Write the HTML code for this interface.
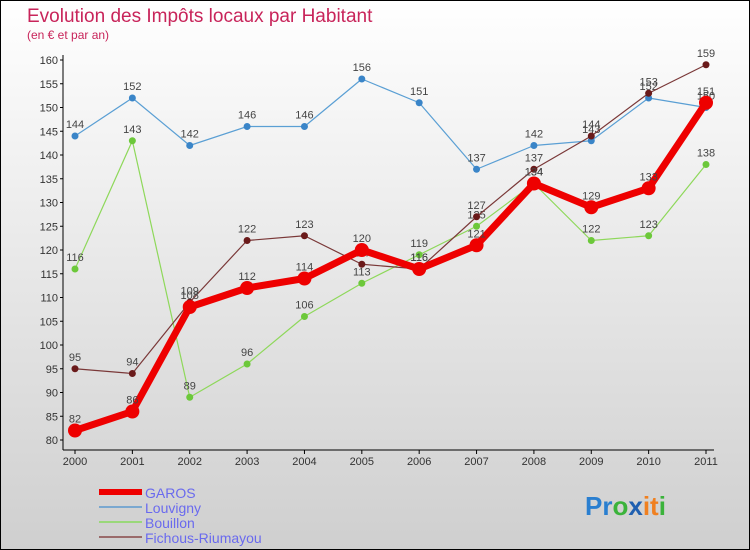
<!DOCTYPE html>
<html><head><meta charset="utf-8"><style>
body{margin:0}
svg{display:block;font-family:"Liberation Sans",sans-serif}
</style></head><body>
<svg width="750" height="550" viewBox="0 0 750 550">
<defs><linearGradient id="bg" x1="0" y1="0" x2="0" y2="1"><stop offset="0" stop-color="#ffffff"/><stop offset="1" stop-color="#cfcfcf"/></linearGradient></defs>
<rect x="0.5" y="0.5" width="749" height="549" fill="url(#bg)" stroke="#000"/>
<text x="27" y="22" font-size="19" fill="#c8245a">Evolution des Impôts locaux par Habitant</text>
<text x="27" y="39" font-size="12" fill="#c8245a">(en € et par an)</text>
<g id="axes"></g>
<g id="series"></g>
<g id="legend"></g>
<text x="585" y="515" font-size="26" font-weight="bold"><tspan fill="#2a7fd0">Pr</tspan><tspan fill="#3bb33b">o</tspan><tspan fill="#1f5fb0">x</tspan><tspan fill="#f08020">it</tspan><tspan fill="#3bb33b">i</tspan></text>
</svg>
<script>
const years=["2000","2001","2002","2003","2004","2005","2006","2007","2008","2009","2010","2011"];
const yTicks=[80,85,90,95,100,105,110,115,120,125,130,135,140,145,150,155,160];
const garos=[82,86,108,112,114,120,116,121,134,129,133,151];
const louvigny=[144,152,142,146,146,156,151,137,142,143,152,150];
const bouillon=[116,143,89,96,106,113,119,125,134,122,123,138];
const fichous=[95,94,109,122,123,117,116,127,137,144,153,159];
const NS="http://www.w3.org/2000/svg";
const xs=i=>75+i*(631/11);
const ys=v=>440-(v-80)*4.75;
function mk(t,a,p){const e=document.createElementNS(NS,t);for(const k in a)e.setAttribute(k,a[k]);p.appendChild(e);return e;}
const ax=document.getElementById('axes');
let l=mk('line',{x1:63,y1:55,x2:63,y2:450,stroke:'#000'},ax);


l=mk('line',{x1:63,y1:450,x2:714,y2:450,stroke:'#000'},ax);


yTicks.forEach(v=>{
 mk('line',{x1:60,y1:ys(v),x2:63,y2:ys(v),stroke:'#000'},ax);
 const t=mk('text',{x:58,y:ys(v)+4,'font-size':11,'text-anchor':'end',fill:'#333'},ax);
 t.textContent=v;
 
 
});
years.forEach((y,i)=>{
 mk('line',{x1:xs(i),y1:450,x2:xs(i),y2:454,stroke:'#000'},ax);
 const t=mk('text',{x:xs(i),y:465,'font-size':11,'text-anchor':'middle',fill:'#333'},ax);
 t.textContent=y;
 
 
});
const sg=document.getElementById('series');
const series=[
 {name:'louvigny',d:louvigny,c:'#5a9fd4',pc:'#3a85c8',w:1.2,r:3.5},
 {name:'bouillon',d:bouillon,c:'#8ed85a',pc:'#6cc83a',w:1.2,r:3.5},
 {name:'fichous-riumayou',d:fichous,c:'#7a3838',pc:'#6a1a1a',w:1.2,r:3.5},
 {name:'garos',d:garos,c:'#ee0000',pc:'#ee0000',w:7,r:7}
];
series.forEach(s=>{
 const g=mk('g',{},sg);
 
 
 const pl=mk('polyline',{points:s.d.map((v,i)=>xs(i)+','+ys(v)).join(' '),fill:'none',stroke:s.c,'stroke-width':s.w,'stroke-linejoin':'round'},g);
 
 
 s.d.forEach((v,i)=>{
  const c=mk('circle',{cx:xs(i),cy:ys(v),r:s.r,fill:s.pc},g);
  
  
  const t=mk('text',{x:xs(i),y:ys(v)-8,'font-size':11,'text-anchor':'middle',fill:'#444'},g);
  t.textContent=v;
  
  
 });
});
const lg=document.getElementById('legend');
const leg=[['GAROS','#ee0000',6],['Louvigny','#7aa8d0',2],['Bouillon','#9ad87a',2],['Fichous-Riumayou','#9a6a6a',2]];
leg.forEach((e,i)=>{
 const y=492+i*15;
 const ln=mk('line',{x1:99,y1:y,x2:142,y2:y,stroke:e[1],'stroke-width':e[2]},lg);
 
 
 const t=mk('text',{x:145,y:y+6,'font-size':14,fill:'#6a6aee'},lg);
 t.textContent=e[0];
 
 
});
</script>
</body></html>
